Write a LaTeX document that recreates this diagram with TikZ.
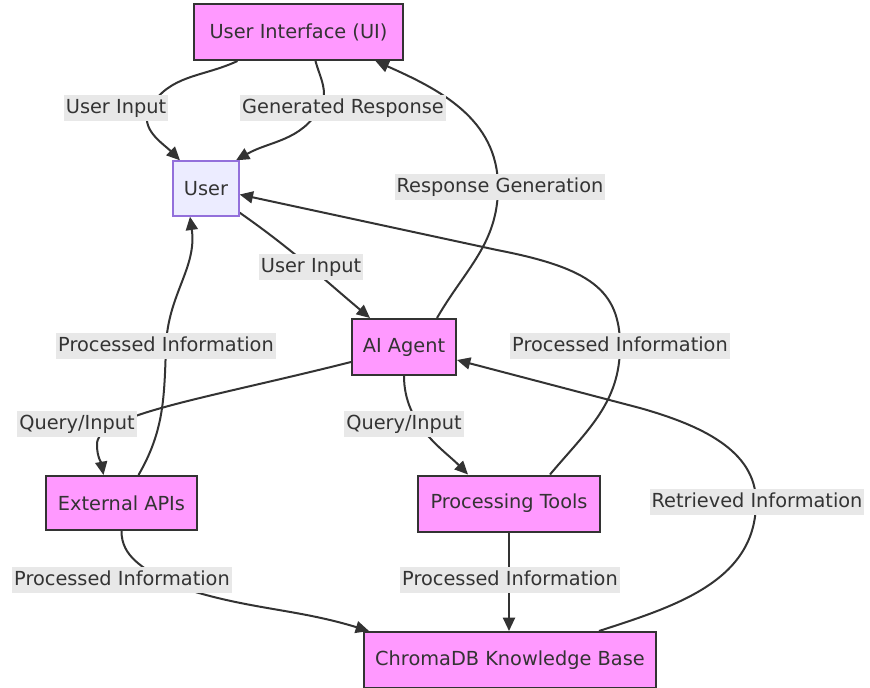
\documentclass[tikz,border=0pt]{standalone}
\usepackage{fontspec}
\setmainfont{DejaVu Sans}
\usetikzlibrary{arrows.meta,calc}
\definecolor{nodepink}{HTML}{FF99FF}
\definecolor{nodeline}{HTML}{333333}
\definecolor{userfill}{HTML}{ECECFF}
\definecolor{userline}{HTML}{9370DB}
\definecolor{lblgray}{HTML}{E8E8E8}
\pgfdeclarelayer{edges}
\pgfsetlayers{edges,main}
\tikzset{
  box/.style={draw=nodeline, fill=nodepink, line width=1.5pt, text=nodeline,
    inner sep=0pt, minimum height=42pt, font=\fontsize{14.5}{17}\selectfont},
  userbox/.style={draw=userline, fill=userfill, line width=1pt, text=nodeline,
    inner sep=0pt, font=\fontsize{14.5}{17}\selectfont},
  lbl/.style={fill=lblgray, text=nodeline, inner xsep=1.5pt, inner ysep=2.6pt,
    text height=11.2pt, text depth=3.4pt, font=\fontsize{14.5}{17}\selectfont},
  arr/.style={draw=nodeline, line width=1.5pt, -{Triangle[length=10pt,width=9pt]}},
}
\begin{document}
\begin{tikzpicture}[x=0.75pt,y=0.75pt]
\useasboundingbox (0,0) rectangle (870,-687);
% nodes
\node[box, minimum width=156.75pt] (ui) at (298.5,-32) {User Interface (UI)};
\node[userbox, minimum width=49.5pt, minimum height=41.25pt] (user) at (206,-188.5) {User};
\node[box, minimum width=78pt] (agent) at (404,-347) {AI Agent};
\node[box, minimum width=113.25pt, minimum height=40.5pt] (apis) at (121.5,-503) {External APIs};
\node[box, minimum width=136.5pt] (tools) at (509,-503.5) {Processing Tools};
\node[box, minimum width=219pt] (chroma) at (510,-660) {ChromaDB Knowledge Base};
% edge labels
\node[lbl] (l1) at (116,-108) {User Input};
\node[lbl] (l2) at (343,-108) {Generated Response};
\node[lbl] (l3) at (311,-267) {User Input};
\node[lbl] (l4) at (500,-187) {Response Generation};
\node[lbl] (l5) at (77,-424) {Query/Input};
\node[lbl] (l6) at (404,-424) {Query/Input};
\node[lbl] (l7) at (166,-346) {Processed Information};
\node[lbl] (l8) at (620,-346) {Processed Information};
\node[lbl] (l9) at (122,-580) {Processed Information};
\node[lbl] (l10) at (510,-580) {Processed Information};
\node[lbl] (l11) at (757,-502) {Retrieved Information};
% edges
\begin{pgfonlayer}{edges}
\draw[arr] ($(ui.south)+(-61,0)$) to[out=-155,in=60] ($(l1)+(34,0)$)
  to[out=-120,in=135] ($(user.north)+(-26,0)$);
\draw[arr] ($(ui.south)+(17,0)$) to[out=-75,in=60] ($(l2)+(-23,0)$)
  to[out=-120,in=30] ($(user.north)+(30,0)$);
\draw[arr] ($(user.south east)+(0,4)$) to[out=-35,in=140] ($(agent.north)+(-34,0)$);
\draw[arr] ($(agent.north)+(33,0)$) to[out=60,in=-90] ($(l4)+(-2,0)$)
  to[out=90,in=-24] ($(ui.south)+(77,0)$);
\draw[arr] ($(agent.west)+(0,-15)$) .. controls (200,-400) and (95,-415) .. (97,-445)
  to[out=-90,in=100] ($(apis.north)+(-18,0)$);
\draw[arr] (agent.south) .. controls (404,-425) and (444,-450) .. ($(tools.north)+(-41,0)$);
\draw[arr] ($(apis.north)+(17,0)$) to[out=60,in=-92] (l7.center)
  to[out=88,in=-82] ($(user.south)+(-16,0)$);
\draw[arr] ($(tools.north)+(41,0)$) to[out=50,in=-90] (l8.center)
  .. controls (620,-290) and (590,-268) .. (497,-250) -- ($(user.east)+(0,-6)$);
\draw[arr] (apis.south) to[out=-90,in=145] ($(l9)+(43,-2)$)
  to[out=-20,in=163] ($(chroma.north west)+(6,0)$);
\draw[arr] (tools.south) -- (tools.south |- chroma.north);
\draw[arr] ($(chroma.north east)+(-58,0)$) to[out=18,in=-90] ($(l11)+(-1,0)$)
  .. controls (756,-450) and (700,-425) .. (640,-408) -- ($(agent.east)+(0,-13)$);
\end{pgfonlayer}
\end{tikzpicture}
\end{document}
